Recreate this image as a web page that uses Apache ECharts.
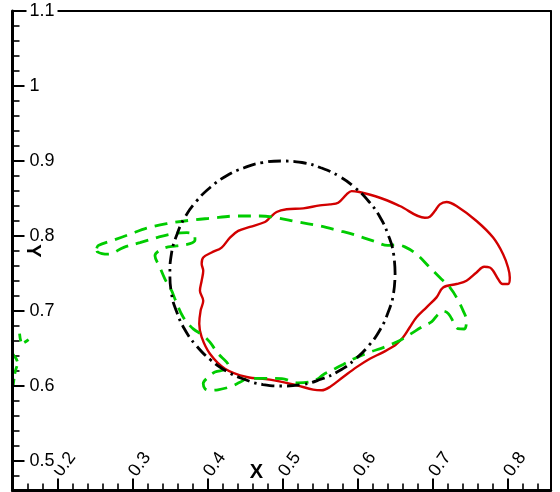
<!DOCTYPE html>
<html><head><meta charset="utf-8">
<script src="https://cdn.jsdelivr.net/npm/echarts@6/dist/echarts.min.js"></script>
<style>html,body{margin:0;padding:0;background:#fff}#c{width:560px;height:492px}</style>
</head><body><div id="c"></div>
<script>
const xTicks = [0.2, 0.3, 0.4, 0.5, 0.6, 0.7, 0.8];
const yTicks = [0.5, 0.6, 0.7, 0.8, 0.9, 1, 1.1];
const xMinorTicks = [0.16,0.18,0.22,0.24,0.26,0.28,0.32,0.34,0.36,0.38,0.42,0.44,0.46,0.48,0.52,0.54,0.56,0.58,0.62,0.64,0.66,0.68,0.72,0.74,0.76,0.78,0.82,0.84];
const yMinorTicks = [0.48,0.52,0.54,0.56,0.58,0.62,0.64,0.66,0.68,0.72,0.74,0.76,0.78,0.82,0.84,0.86,0.88,0.92,0.94,0.96,0.98,1.02,1.04,1.06,1.08];

// red solid interface
const redX = [0.6497,0.6607,0.6696,0.6786,0.6919,0.7052,0.7140,0.7318,0.7451,0.7585,
  0.7686,0.7762,0.7806,0.7872,0.7931,0.8005,0.8028,0.8005,0.7939,0.7806,
  0.7585,0.7318,0.7185,0.7096,0.7029,0.6963,0.6896,0.6563,0.6297,0.6008,
  0.5920,0.5854,0.5742,0.5631,0.5498,0.5276,0.5055,0.4921,0.4832,0.4766,
  0.4566,0.4410,0.4300,0.4189,0.4056,0.3944,0.3923,0.3944,0.3923,0.3900,
  0.3944,0.3909,0.3891,0.3923,0.4033,0.4233,0.4522,0.4832,0.5188,0.5409,
  0.5521,0.5631,0.5808,0.5987,0.6164,0.6337,0.6497];
const redY = [0.6540,0.6651,0.6784,0.6916,0.7049,0.7182,0.7315,0.7360,0.7404,0.7514,
  0.7590,0.7580,0.7537,0.7426,0.7360,0.7360,0.7448,0.7580,0.7758,0.7979,
  0.8200,0.8400,0.8453,0.8422,0.8333,0.8258,0.8244,0.8400,0.8510,0.8590,
  0.8599,0.8555,0.8444,0.8422,0.8409,0.8369,0.8356,0.8320,0.8244,0.8187,
  0.8121,0.8068,0.7979,0.7846,0.7780,0.7713,0.7629,0.7537,0.7404,0.7271,
  0.7138,0.7005,0.6829,0.6651,0.6430,0.6231,0.6120,0.6085,0.6009,0.5952,
  0.5943,0.5987,0.6120,0.6252,0.6364,0.6448,0.6540];

// green dashed interface
const greenX = [0.2525,0.2546,0.2746,0.2968,0.3190,0.3457,0.3767,0.4033,0.4389,0.4699,
  0.4921,0.5188,0.5498,0.5764,0.5897,0.6208,0.6403,0.6519,0.6630,0.6786,
  0.6963,0.7096,0.7229,0.7318,0.7406,0.7451,0.7422,0.7336,0.7282,0.7209,
  0.7142,0.7069,0.6989,0.6873,0.6696,0.6563,0.6364,0.6164,0.5987,0.5808,
  0.5698,0.5542,0.5475,0.5365,0.5205,0.4992,0.4726,0.4543,0.4433,0.4300,
  0.4140,0.4033,0.3967,0.3944,0.4007,0.4100,0.4233,0.4286,0.4256,0.4144,
  0.4033,0.3944,0.3811,0.3678,0.3567,0.3523,0.3434,0.3368,0.3301,0.3411,
  0.3590,0.3767,0.3834,0.3827,0.3727,0.3545,0.3324,0.3101,0.2879,0.2679,0.2535,
  0.2525];
const greenY = [0.7835,0.7875,0.7944,0.8024,0.8104,0.8165,0.8210,0.8236,0.8267,0.8267,
  0.8244,0.8191,0.8134,0.8068,0.8035,0.7935,0.7875,0.7882,0.7855,0.7758,
  0.7580,0.7448,0.7315,0.7182,0.7005,0.6873,0.6760,0.6766,0.6846,0.6965,
  0.6999,0.6952,0.6859,0.6797,0.6687,0.6607,0.6521,0.6452,0.6381,0.6288,
  0.6231,0.6151,0.6098,0.6056,0.6043,0.6098,0.6102,0.6102,0.6049,0.5989,
  0.5950,0.5943,0.5965,0.6032,0.6116,0.6186,0.6218,0.6262,0.6319,0.6430,
  0.6584,0.6673,0.6762,0.6916,0.7161,0.7271,0.7426,0.7580,0.7736,0.7833,
  0.7869,0.7899,0.7948,0.8015,0.8045,0.8032,0.7979,0.7912,0.7846,0.7758,0.7789,
  0.7835];

// green fragments at the left edge
const greenFragAX = [0.1497, 0.1530, 0.1617];
const greenFragAY = [0.6700, 0.6567, 0.6620];
const greenFragBX = [0.1410, 0.1470, 0.1437, 0.1410];
const greenFragBY = [0.6421, 0.6315, 0.6182, 0.5996];

// black dash-dot reference circle
const circleX = [0.650,0.648,0.641,0.630,0.615,0.596,0.575,0.551,0.526,0.500,
  0.474,0.449,0.425,0.404,0.385,0.370,0.359,0.352,0.350,0.352,
  0.359,0.370,0.385,0.404,0.425,0.449,0.474,0.500,0.526,0.551,
  0.575,0.596,0.615,0.630,0.641,0.648,0.650];
const circleY = [0.750,0.776,0.801,0.825,0.846,0.865,0.880,0.891,0.898,0.900,
  0.898,0.891,0.880,0.865,0.846,0.825,0.801,0.776,0.750,0.724,
  0.699,0.675,0.654,0.635,0.620,0.609,0.602,0.600,0.602,0.609,
  0.620,0.635,0.654,0.675,0.699,0.724,0.750];

const zip = (xs, ys) => xs.map((x, i) => [x, ys[i]]);

const X_MIN = 0.1403, X_MAX = 0.8573, Y_MIN = 0.4607, Y_MAX = 1.1;
const FONT = '"Liberation Sans", Arial, sans-serif';

const chart = echarts.init(document.getElementById('c'), null, {renderer: 'canvas'});
const axBase = {type: 'value', splitLine: {show: false}};
chart.setOption({
  animation: false,
  backgroundColor: '#fff',
  grid: {left: 12.5, right: 9.3, top: 11, bottom: 1.5, outerBoundsMode: 'none', containLabel: false},
  xAxis: [
    Object.assign({}, axBase, {position: 'bottom', min: X_MIN, max: X_MAX,
      axisLine: {show: true, onZero: false, lineStyle: {color: '#000', width: 3}},
      axisTick: {show: true, inside: true, length: 12, customValues: xTicks, lineStyle: {color: '#000', width: 2}},
      axisLabel: {show: true, inside: true, rotate: 54, margin: 16, customValues: xTicks,
        fontSize: 18, color: '#000', fontFamily: FONT}}),
    Object.assign({}, axBase, {position: 'bottom', min: X_MIN, max: X_MAX,
      axisLine: {show: false, onZero: false},
      axisTick: {show: true, inside: true, length: 7, customValues: xMinorTicks, lineStyle: {color: '#000', width: 1.6}},
      axisLabel: {show: false}}),
    Object.assign({}, axBase, {position: 'top', min: X_MIN, max: X_MAX,
      axisLine: {show: true, onZero: false, lineStyle: {color: '#000', width: 2}},
      axisTick: {show: false}, axisLabel: {show: false}})
  ],
  yAxis: [
    Object.assign({}, axBase, {position: 'left', min: Y_MIN, max: Y_MAX,
      axisLine: {show: true, onZero: false, lineStyle: {color: '#000', width: 3}},
      axisTick: {show: true, inside: true, length: 12, customValues: yTicks, lineStyle: {color: '#000', width: 2}},
      axisLabel: {show: true, inside: true, margin: 14, customValues: yTicks,
        fontSize: 18, color: '#000', fontFamily: FONT, backgroundColor: '#fff', padding: [0, 3, 0, 3]}, z: 5}),
    Object.assign({}, axBase, {position: 'left', min: Y_MIN, max: Y_MAX,
      axisLine: {show: false, onZero: false},
      axisTick: {show: true, inside: true, length: 7, customValues: yMinorTicks, lineStyle: {color: '#000', width: 1.6}},
      axisLabel: {show: false}}),
    Object.assign({}, axBase, {position: 'right', min: Y_MIN, max: Y_MAX,
      axisLine: {show: true, onZero: false, lineStyle: {color: '#000', width: 2}},
      axisTick: {show: false}, axisLabel: {show: false}})
  ],
  graphic: [
    {type: 'text', x: 256.5, y: 472, z: 10,
      style: {text: 'X', font: 'bold 20px ' + FONT, fill: '#000', align: 'center', verticalAlign: 'middle'}},
    {type: 'text', x: 32.5, y: 251, rotation: -Math.PI / 2, z: 10,
      style: {text: 'Y', font: 'bold 20px ' + FONT, fill: '#000', align: 'center', verticalAlign: 'middle'}}
  ],
  series: [
    {type: 'line', xAxisIndex: 0, yAxisIndex: 0, data: zip(redX, redY), showSymbol: false, smooth: 0.35,
      lineStyle: {color: '#d20000', width: 2.4}, z: 2},
    {type: 'line', xAxisIndex: 0, yAxisIndex: 0, data: zip(greenX, greenY), showSymbol: false, smooth: 0.35,
      lineStyle: {color: '#00cc00', width: 2.8, type: [13, 8]}, z: 3},
    {type: 'line', xAxisIndex: 0, yAxisIndex: 0, data: zip(greenFragAX, greenFragAY), showSymbol: false, smooth: 0.3,
      lineStyle: {color: '#00cc00', width: 2.8, type: [8, 5]}, z: 3},
    {type: 'line', xAxisIndex: 0, yAxisIndex: 0, data: zip(greenFragBX, greenFragBY), showSymbol: false, smooth: 0.3,
      lineStyle: {color: '#00cc00', width: 2.8, type: [8, 5]}, z: 3},
    {type: 'line', xAxisIndex: 0, yAxisIndex: 0, data: zip(circleX, circleY), showSymbol: false, smooth: true,
      lineStyle: {color: '#000', width: 2.8, type: [13, 5, 2.5, 5]}, z: 4}
  ]
});
</script>
</body></html>
